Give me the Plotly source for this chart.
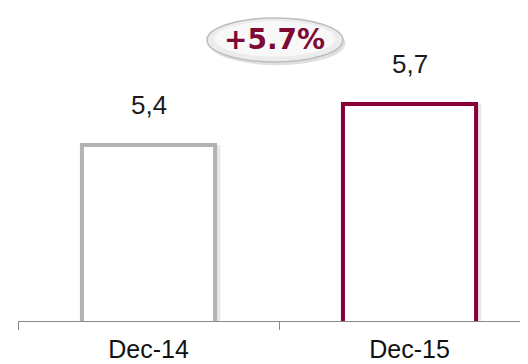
import plotly.graph_objects as go

# data
periods = ["Dec-14", "Dec-15"]
values = [5.4, 5.7]
value_labels = ["5,4", "5,7"]
growth_label = "+5.7%"
edge_colors = ["#b3b3b3", "#880037"]

fig = go.Figure()

# soft shadow behind the bars
fig.add_trace(go.Bar(
    x=periods, y=values, width=0.52, offset=-0.245,
    marker=dict(color="rgba(0,0,0,0.09)", line=dict(width=0)),
    hoverinfo="skip", showlegend=False,
))

# outlined bars
fig.add_trace(go.Bar(
    x=periods, y=values, width=0.51,
    marker=dict(color="white", line=dict(color=edge_colors, width=4)),
    showlegend=False,
))

# value labels above bars
for p, v, lab in zip(periods, values, value_labels):
    fig.add_annotation(x=p, y=v, text=lab, showarrow=False, yshift=40,
                       yanchor="middle", font=dict(size=26, color="#1a1a1a"))

# growth badge (page body has an 8px margin, so positions are shifted)
fig.add_shape(type="circle", xref="paper", yref="paper",
              x0=0.375, x1=0.642, y0=0.817, y1=0.958,
              fillcolor="rgba(0,0,0,0.12)", line=dict(width=0), layer="above")
fig.add_shape(type="circle", xref="paper", yref="paper",
              x0=0.3706, x1=0.637, y0=0.8275, y1=0.968,
              fillcolor="#ececec", line=dict(color="#bdbdbd", width=1.5), layer="above")
fig.add_shape(type="circle", xref="paper", yref="paper",
              x0=0.385, x1=0.622, y0=0.845, y1=0.958,
              fillcolor="#f8f8f8", line=dict(width=0), layer="above")
fig.add_annotation(xref="paper", yref="paper", x=0.503, y=0.898, text="<b>" + growth_label + "</b>",
                   xanchor="center", yanchor="middle", showarrow=False,
                   font=dict(size=28, color="#7d0a35", family="DejaVu Sans"))

fig.update_layout(
    width=520, height=356,
    margin=dict(l=10, r=0, t=0, b=43),
    paper_bgcolor="white", plot_bgcolor="white",
    font=dict(family="Liberation Sans, Arial", size=26, color="#111"),
    barmode="overlay",
    xaxis=dict(range=[-0.5, 1.454], tickson="boundaries", ticks="outside", ticklen=8,
               tickcolor="#888", showline=True, linecolor="#888", linewidth=1,
               showgrid=False, automargin=False, ticklabelstandoff=6,
               tickfont=dict(size=25, color="#111")),
    yaxis=dict(range=[4.112, 6.402], visible=False, showgrid=False, zeroline=False),
)

fig.write_html("out.html")
